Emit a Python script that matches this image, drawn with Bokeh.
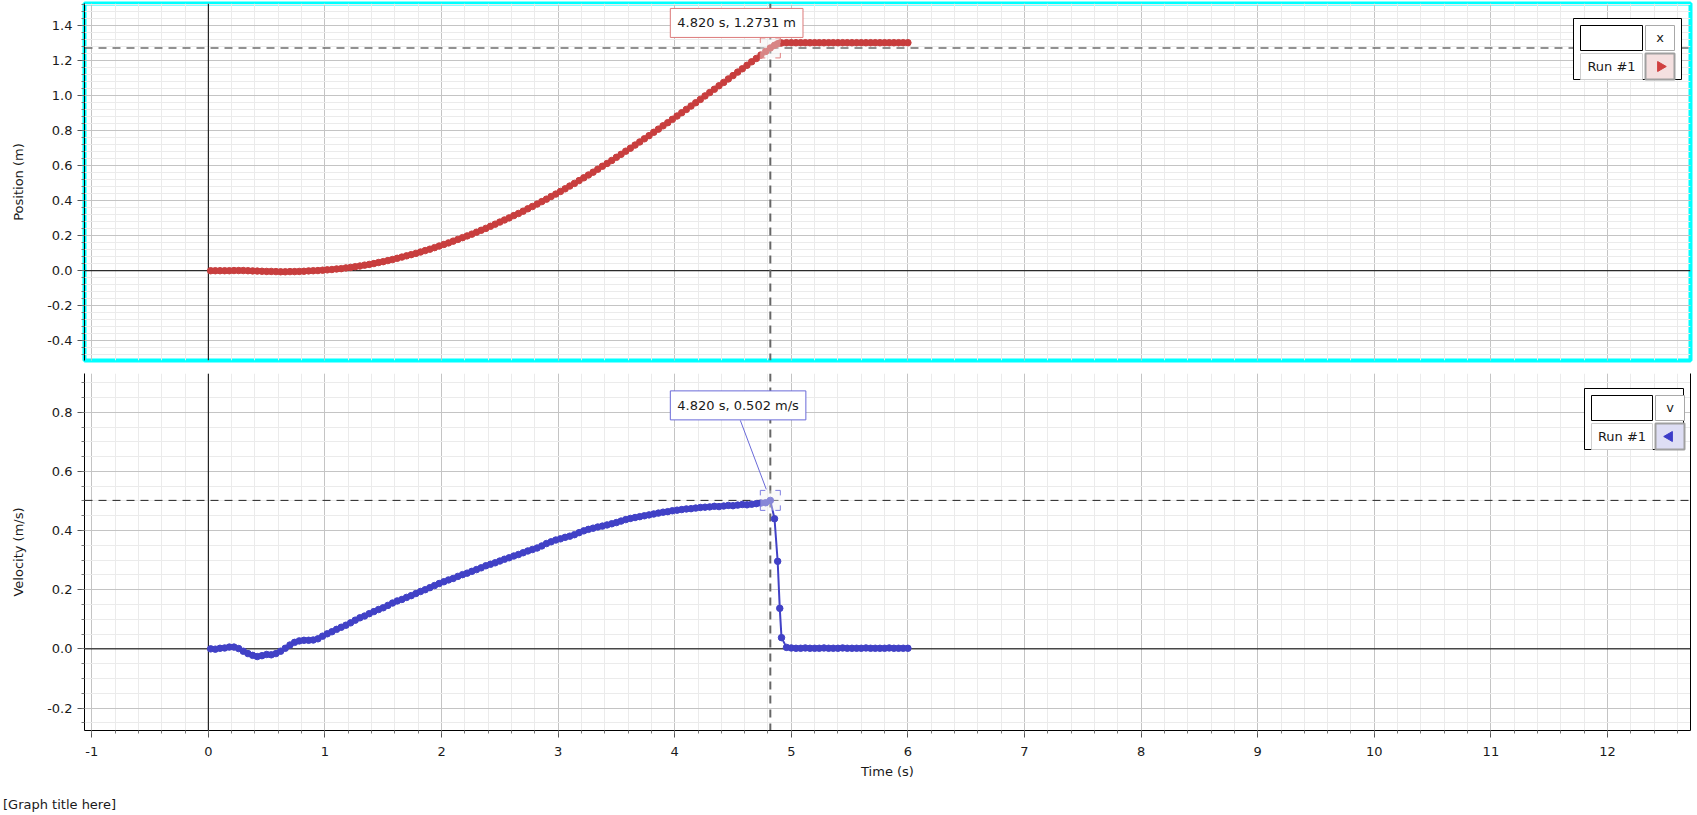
from bokeh.plotting import figure
from bokeh.layouts import column
from bokeh.models import Range1d, FixedTicker, LinearAxis, Span, Label, Div
from bokeh.core.properties import value
from bokeh.embed import file_html
from bokeh.resources import INLINE
import math

# ---------------- data ----------------
time_s = [
    0.02, 0.06, 0.10, 0.14, 0.18, 0.22, 0.26, 0.30, 0.34, 0.38,
    0.42, 0.46, 0.50, 0.54, 0.58, 0.62, 0.66, 0.70, 0.74, 0.78,
    0.82, 0.86, 0.90, 0.94, 0.98, 1.02, 1.06, 1.10, 1.14, 1.18,
    1.22, 1.26, 1.30, 1.34, 1.38, 1.42, 1.46, 1.50, 1.54, 1.58,
    1.62, 1.66, 1.70, 1.74, 1.78, 1.82, 1.86, 1.90, 1.94, 1.98,
    2.02, 2.06, 2.10, 2.14, 2.18, 2.22, 2.26, 2.30, 2.34, 2.38,
    2.42, 2.46, 2.50, 2.54, 2.58, 2.62, 2.66, 2.70, 2.74, 2.78,
    2.82, 2.86, 2.90, 2.94, 2.98, 3.02, 3.06, 3.10, 3.14, 3.18,
    3.22, 3.26, 3.30, 3.34, 3.38, 3.42, 3.46, 3.50, 3.54, 3.58,
    3.62, 3.66, 3.70, 3.74, 3.78, 3.82, 3.86, 3.90, 3.94, 3.98,
    4.02, 4.06, 4.10, 4.14, 4.18, 4.22, 4.26, 4.30, 4.34, 4.38,
    4.42, 4.46, 4.50, 4.54, 4.58, 4.62, 4.66, 4.70, 4.74, 4.78, 4.82,
    4.856, 4.883, 4.901, 4.916, 4.959,
    5.00, 5.04, 5.08, 5.12, 5.16, 5.20, 5.24, 5.28, 5.32, 5.36,
    5.40, 5.44, 5.48, 5.52, 5.56, 5.60, 5.64, 5.68, 5.72, 5.76,
    5.80, 5.84, 5.88, 5.92, 5.96, 6.00,
]

position_m = [
    0.000, 0.000, 0.000, 0.000, 0.000, 0.001, 0.001, 0.001, 0.000, -0.001,
    -0.002, -0.003, -0.004, -0.004, -0.005, -0.006, -0.006, -0.005, -0.005, -0.004,
    -0.003, -0.001, 0.000, 0.001, 0.003, 0.005, 0.007, 0.010, 0.012, 0.016,
    0.019, 0.023, 0.027, 0.032, 0.036, 0.041, 0.047, 0.052, 0.058, 0.064,
    0.071, 0.078, 0.085, 0.092, 0.099, 0.107, 0.115, 0.123, 0.132, 0.141,
    0.150, 0.159, 0.169, 0.179, 0.189, 0.199, 0.209, 0.220, 0.231, 0.242,
    0.254, 0.266, 0.278, 0.290, 0.302, 0.315, 0.327, 0.340, 0.354, 0.367,
    0.381, 0.395, 0.409, 0.424, 0.438, 0.453, 0.468, 0.484, 0.499, 0.515,
    0.531, 0.547, 0.563, 0.580, 0.597, 0.613, 0.630, 0.648, 0.665, 0.683,
    0.700, 0.718, 0.736, 0.754, 0.772, 0.791, 0.809, 0.828, 0.846, 0.865,
    0.884, 0.903, 0.922, 0.941, 0.960, 0.979, 0.999, 1.018, 1.037, 1.057,
    1.076, 1.096, 1.115, 1.135, 1.154, 1.174, 1.194, 1.213, 1.233, 1.253, 1.273,
    1.288, 1.297, 1.301, 1.302, 1.303,
    1.303, 1.303, 1.303, 1.303, 1.303, 1.303, 1.303, 1.303, 1.303, 1.303,
    1.303, 1.303, 1.303, 1.303, 1.303, 1.303, 1.303, 1.303, 1.303, 1.303,
    1.303, 1.303, 1.303, 1.303, 1.303, 1.303,
]

velocity_ms = [
    0.000, -0.001, 0.002, 0.003, 0.006, 0.006, 0.001, -0.008, -0.016, -0.022,
    -0.026, -0.023, -0.019, -0.020, -0.016, -0.008, 0.002, 0.013, 0.022, 0.027,
    0.029, 0.029, 0.030, 0.034, 0.043, 0.051, 0.058, 0.066, 0.073, 0.080,
    0.088, 0.097, 0.105, 0.111, 0.119, 0.126, 0.133, 0.139, 0.147, 0.155,
    0.162, 0.167, 0.174, 0.180, 0.187, 0.194, 0.200, 0.207, 0.214, 0.221,
    0.227, 0.233, 0.238, 0.245, 0.251, 0.256, 0.262, 0.268, 0.274, 0.281,
    0.286, 0.291, 0.297, 0.303, 0.308, 0.314, 0.319, 0.325, 0.331, 0.336,
    0.341, 0.348, 0.356, 0.362, 0.368, 0.372, 0.377, 0.381, 0.386, 0.393,
    0.399, 0.404, 0.408, 0.412, 0.415, 0.419, 0.423, 0.427, 0.432, 0.437,
    0.441, 0.444, 0.447, 0.450, 0.453, 0.456, 0.459, 0.462, 0.464, 0.467,
    0.469, 0.471, 0.473, 0.474, 0.476, 0.478, 0.479, 0.480, 0.482, 0.481,
    0.483, 0.485, 0.484, 0.486, 0.488, 0.487, 0.489, 0.491, 0.493, 0.494, 0.502,
    0.440, 0.296, 0.137, 0.038, 0.005,
    0.003, 0.002, 0.002, 0.003, 0.002, 0.002, 0.002, 0.003, 0.002, 0.002,
    0.002, 0.003, 0.002, 0.002, 0.002, 0.002, 0.003, 0.002, 0.002, 0.002,
    0.002, 0.003, 0.002, 0.002, 0.002, 0.002,
]

cursor_time = 4.820
cursor_position = 1.2731
cursor_velocity = 0.502

x_tick_values = [-1, 0, 1, 2, 3, 4, 5, 6, 7, 8, 9, 10, 11, 12]
x_tick_labels = ["-1", "0", "1", "2", "3", "4", "5", "6", "7", "8", "9", "10", "11", "12"]
pos_tick_values = [-0.4, -0.2, 0.0, 0.2, 0.4, 0.6, 0.8, 1.0, 1.2, 1.4]
pos_tick_labels = ["-0.4", "-0.2", "0.0", "0.2", "0.4", "0.6", "0.8", "1.0", "1.2", "1.4"]
vel_tick_values = [-0.2, 0.0, 0.2, 0.4, 0.6, 0.8]
vel_tick_labels = ["-0.2", "0.0", "0.2", "0.4", "0.6", "0.8"]
graph_title = "[Graph title here]"

# ---------------- layout / style ----------------
FONT = "DejaVu Sans"
RED = "#c83e3e"
BLUE = "#4141c6"
W = 1697
H_TOTAL = 815
FL, FR = 84, 1690          # frame left/right (page px)
T_TOP, T_BOT = 3, 360      # top frame (page px)
B_TOP, B_BOT = 373, 730    # bottom frame (page px)
H1 = 366                   # top figure height
H3 = 27                    # caption strip height
HB = H_TOTAL - H1 - H3     # bottom figure height
X_RANGE = (-1.062, 12.712)
POS_RANGE = (-0.513, 1.527)
VEL_RANGE = (-0.276, 0.931)


def minor_list(lo, hi, step):
    n = int(round((hi - lo) / step))
    return [round(lo + i * step, 4) for i in range(n + 1)]


def make_ticker(vals, lo, hi, step):
    return FixedTicker(ticks=vals, minor_ticks=minor_list(lo, hi, step))


def mapper(xr, yr, top, bot):
    def fx(px):
        return xr[0] + (px - FL) * (xr[1] - xr[0]) / (FR - FL)

    def fy(py):
        return yr[1] - (py - top) * (yr[1] - yr[0]) / (bot - top)

    return fx, fy


def style_axis(ax, ticker, labels_map):
    ax.ticker = ticker
    ax.major_label_overrides = labels_map
    ax.axis_line_color = "black"
    ax.axis_line_width = 1
    ax.major_tick_in = 0
    ax.major_tick_out = 7
    ax.minor_tick_in = 0
    ax.minor_tick_out = 3
    ax.major_tick_line_color = "#555555"
    ax.minor_tick_line_color = "#777777"
    ax.major_label_text_font = FONT
    ax.major_label_text_font_size = "13px"
    ax.major_label_text_color = "#1a1a1a"
    ax.major_label_standoff = 5
    ax.axis_label_text_font = FONT
    ax.axis_label_text_font_size = "13px"
    ax.axis_label_text_font_style = "normal"
    ax.axis_label_text_color = "#1a1a1a"
    ax.axis_label_standoff = 18


def style_grid(g, ticker):
    g.ticker = ticker
    g.grid_line_color = "#c4c4c4"
    g.grid_line_width = 1
    g.minor_grid_line_color = "#ebebeb"
    g.minor_grid_line_width = 1


x_ticker = make_ticker(x_tick_values, -1.0, 12.6, 0.2)
x_labels = {v: l for v, l in zip(x_tick_values, x_tick_labels)}

# ================= top figure (position) =================
p1 = figure(width=W, height=H1, x_range=Range1d(*X_RANGE), y_range=Range1d(*POS_RANGE),
            x_axis_location=None, output_backend="svg", toolbar_location=None, title=None,
            min_border_left=FL, min_border_right=W - FR, min_border_top=T_TOP,
            min_border_bottom=H1 - T_BOT)
p1.background_fill_color = "white"
p1.border_fill_color = "white"
p1.outline_line_color = "#00ffff"
p1.outline_line_width = 4

pos_ticker = make_ticker(pos_tick_values, -0.48, 1.52, 0.04)
style_axis(p1.yaxis[0], pos_ticker, {v: l for v, l in zip(pos_tick_values, pos_tick_labels)})
p1.yaxis[0].axis_label = "Position (m)"
style_grid(p1.ygrid[0], pos_ticker)
style_grid(p1.xgrid[0], x_ticker)

for sp in [Span(location=0, dimension="width", line_color="black", line_width=1, level="underlay"),
           Span(location=0, dimension="height", line_color="black", line_width=1, level="underlay"),
           Span(location=cursor_position, dimension="width", line_color="#6e6e6e", line_width=1.5,
                line_dash="8 6", level="underlay"),
           Span(location=cursor_time, dimension="height", line_color="#666666", line_width=2,
                line_dash="8 6", level="underlay")]:
    p1.add_layout(sp)

p1.line(time_s, position_m, line_color=RED, line_width=2)
p1.scatter(time_s, position_m, size=6.5, fill_color=RED, line_color=RED)

# cursor marker & readout
p1.scatter([cursor_time], [cursor_position], marker="square", size=20, fill_color="#f0f0f0",
           fill_alpha=0.4, line_color="#e08080", line_width=1, line_dash="5 10 5 0")
p1.add_layout(Label(x=cursor_time, y=cursor_position, x_offset=-100, y_offset=25,
                    text=f"{cursor_time:.3f} s, {cursor_position:.4f} m",
                    text_font=FONT, text_font_size="13px", text_color="#1a1a1a",
                    text_align="left", text_baseline="middle",
                    background_fill_color="white", border_line_color="#dc7a7a",
                    border_line_width=1, padding=7))

# legend widget (top)
fx1, fy1 = mapper(X_RANGE, POS_RANGE, T_TOP, T_BOT)


def widget(p, fx, fy, boxes, texts, tri_pos, tri_color, tri_angle):
    for (l, t, r, b, fill, line, lw) in boxes:
        p.quad(left=[fx(l)], right=[fx(r)], top=[fy(t)], bottom=[fy(b)],
               fill_color=fill, line_color=line, line_width=lw)
    for (cx, cy, s) in texts:
        p.text(x=[fx(cx)], y=[fy(cy)], text=[s], text_font=value(FONT), text_font_size="13px",
               text_align="center", text_baseline="middle", text_color="#1a1a1a")
    p.scatter([fx(tri_pos[0])], [fy(tri_pos[1])], marker="triangle", size=10, angle=tri_angle,
              fill_color=tri_color, line_color=tri_color)


widget(p1, fx1, fy1,
       [(1573, 18, 1681, 79, "white", "black", 1),
        (1580, 25, 1642, 50, "white", "black", 1),
        (1645, 25, 1674, 50, "white", "#a8a8a8", 1),
        (1580, 53, 1642, 79, "white", "#cfcfcf", 1),
        (1645, 53, 1674, 79, "#f4e0e0", "#a0a0a0", 2)],
       [(1659.5, 36.5, "x"), (1611, 66, "Run #1")],
       (1660, 66), "#d04040", -math.pi / 2)

# ================= bottom figure (velocity) =================
p2 = figure(width=W, height=HB, x_range=p1.x_range, y_range=Range1d(*VEL_RANGE),
            output_backend="svg", toolbar_location=None, title=None,
            min_border_left=FL, min_border_right=W - FR, min_border_top=B_TOP - H1,
            min_border_bottom=H1 + HB - B_BOT)
p2.background_fill_color = "white"
p2.border_fill_color = "white"
p2.outline_line_color = None

vel_ticker = make_ticker(vel_tick_values, -0.25, 0.9, 0.05)
style_axis(p2.yaxis[0], vel_ticker, {v: l for v, l in zip(vel_tick_values, vel_tick_labels)})
p2.yaxis[0].axis_label = "Velocity (m/s)"
style_axis(p2.xaxis[0], x_ticker, x_labels)
p2.xaxis[0].axis_label = "Time (s)"
p2.xaxis[0].major_label_standoff = 9
p2.xaxis[0].axis_label_standoff = 5
style_grid(p2.ygrid[0], vel_ticker)
style_grid(p2.xgrid[0], x_ticker)

right_ax = LinearAxis(ticker=FixedTicker(ticks=[], minor_ticks=[]), axis_line_color="black",
                      major_tick_line_color=None, minor_tick_line_color=None,
                      major_label_standoff=0, major_tick_out=0, minor_tick_out=0)
p2.add_layout(right_ax, "right")

for sp in [Span(location=0, dimension="width", line_color="black", line_width=1, level="underlay"),
           Span(location=0, dimension="height", line_color="black", line_width=1, level="underlay"),
           Span(location=cursor_velocity, dimension="width", line_color="#222222", line_width=1,
                line_dash="8 6", level="underlay"),
           Span(location=cursor_time, dimension="height", line_color="#666666", line_width=2,
                line_dash="8 6", level="underlay")]:
    p2.add_layout(sp)

p2.line(time_s, velocity_ms, line_color=BLUE, line_width=2)
p2.scatter(time_s, velocity_ms, size=6.5, fill_color=BLUE, line_color=BLUE)

fx2, fy2 = mapper(X_RANGE, VEL_RANGE, B_TOP, B_BOT)
dxp = (X_RANGE[1] - X_RANGE[0]) / (FR - FL)
dyp = (VEL_RANGE[1] - VEL_RANGE[0]) / (B_BOT - B_TOP)
p2.segment(x0=[cursor_time - 30 * dxp], y0=[cursor_velocity + 80 * dyp],
           x1=[cursor_time - 4 * dxp], y1=[cursor_velocity + 11 * dyp],
           line_color="#6a6ad8", line_width=1)
p2.scatter([cursor_time], [cursor_velocity], marker="square", size=20, fill_color="#f0f0f0",
           fill_alpha=0.4, line_color="#7c7ce0", line_width=1, line_dash="5 10 5 0")
p2.add_layout(Label(x=cursor_time, y=cursor_velocity, x_offset=-100, y_offset=95,
                    text=f"{cursor_time:.3f} s, {cursor_velocity:.3f} m/s",
                    text_font=FONT, text_font_size="13px", text_color="#1a1a1a",
                    text_align="left", text_baseline="middle",
                    background_fill_color="white", border_line_color="#6a6ad8",
                    border_line_width=1, padding=7))

widget(p2, fx2, fy2,
       [(1584, 388, 1683, 449, "white", "black", 1),
        (1591, 395, 1652, 420, "white", "black", 1),
        (1655, 395, 1684, 420, "white", "#a8a8a8", 1),
        (1591, 423, 1652, 449, "white", "#cfcfcf", 1),
        (1655, 423, 1684, 449, "#dedef4", "#a0a0a0", 2)],
       [(1669.5, 407, "v"), (1621.5, 436, "Run #1")],
       (1669, 436), "#3c3cc8", math.pi / 2)

# ================= caption strip =================
caption = Div(
    text=(f'<div style="font-family:\'DejaVu Sans\';font-size:13px;color:#1a1a1a;'
          f'margin:9px 0 0 3px;line-height:16px;white-space:nowrap">{graph_title}</div>'),
    width=W, height=H3, margin=(0, 0, 0, 0))

layout = column(p1, p2, caption, spacing=0)
open("out.html", "w").write(file_html(layout, INLINE))
